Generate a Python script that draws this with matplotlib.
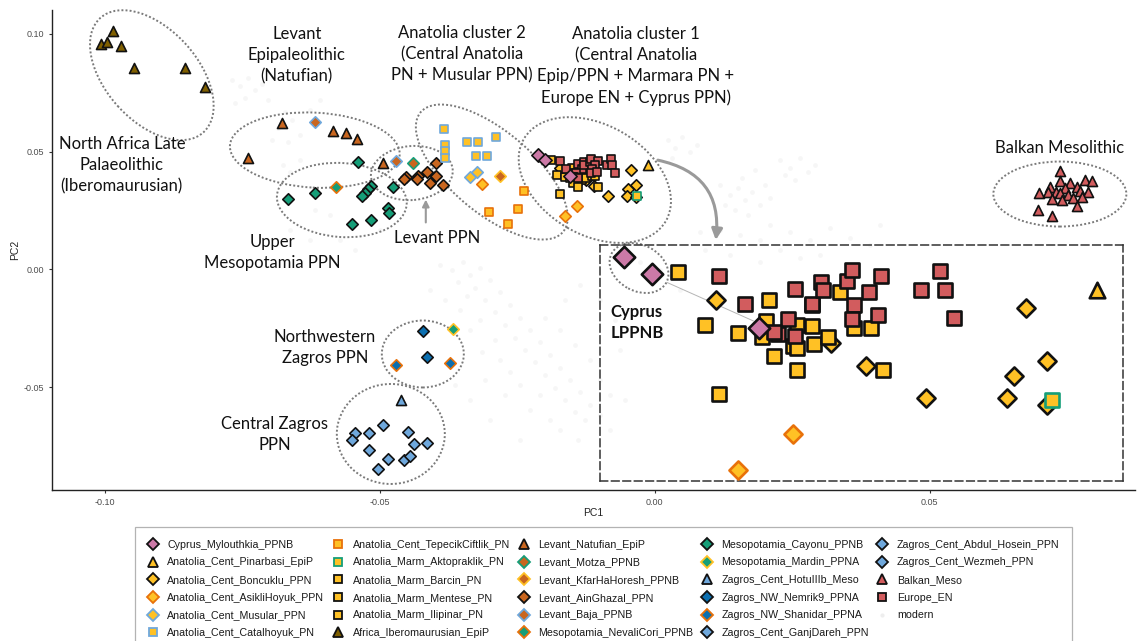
import matplotlib
matplotlib.use("Agg")
import matplotlib.pyplot as plt
from matplotlib.lines import Line2D
from matplotlib.patches import Ellipse, FancyArrowPatch
import matplotlib.transforms as mtransforms

plt.rcParams['font.family'] = ['Liberation Sans', 'DejaVu Sans']

# ---------------- data (PC1, PC2) ----------------
Africa_Iberomaurusian_EpiP_pc1 = [-0.0986, -0.1007, -0.0996, -0.0971, -0.0947, -0.0855, -0.0818]
Africa_Iberomaurusian_EpiP_pc2 = [0.1011, 0.0955, 0.0965, 0.0947, 0.0853, 0.0854, 0.0775]

Levant_Natufian_EpiP_pc1 = [-0.0678, -0.0585, -0.0562, -0.0541, -0.0740, -0.0494]
Levant_Natufian_EpiP_pc2 = [0.0620, 0.0587, 0.0577, 0.0554, 0.0474, 0.0450]

Levant_Baja_PPNB_pc1 = [-0.0617, -0.0470]
Levant_Baja_PPNB_pc2 = [0.0624, 0.0460]

Levant_Motza_PPNB_pc1 = [-0.0440]
Levant_Motza_PPNB_pc2 = [0.0450]

Levant_KfarHaHoresh_PPNB_pc1 = [-0.0282]
Levant_KfarHaHoresh_PPNB_pc2 = [0.0397]

Levant_AinGhazal_PPN_pc1 = [-0.0397, -0.0452, -0.0430, -0.0432, -0.0415, -0.0398, -0.0408, -0.0385, -0.0456]
Levant_AinGhazal_PPN_pc2 = [0.0450, 0.0391, 0.0396, 0.0382, 0.0414, 0.0396, 0.0365, 0.0358, 0.0382]

Mesopotamia_NevaliCori_PPNB_pc1 = [-0.0579]
Mesopotamia_NevaliCori_PPNB_pc2 = [0.0348]

Mesopotamia_Cayonu_PPNB_pc1 = [-0.0540, -0.0667, -0.0618, -0.0516, -0.0521, -0.0527, -0.0533,
                               -0.0476, -0.0485, -0.0483, -0.0516, -0.0550]
Mesopotamia_Cayonu_PPNB_pc2 = [0.0455, 0.0300, 0.0323, 0.0354, 0.0340, 0.0323, 0.0311,
                               0.0348, 0.0259, 0.0240, 0.0209, 0.0191]

Mesopotamia_Mardin_PPNA_pc1 = [-0.0367]
Mesopotamia_Mardin_PPNA_pc2 = [-0.0253]

Zagros_Cent_HotuIIIb_Meso_pc1 = [-0.0461]
Zagros_Cent_HotuIIIb_Meso_pc2 = [-0.0555]

Zagros_NW_Nemrik9_PPNA_pc1 = [-0.0422, -0.0415]
Zagros_NW_Nemrik9_PPNA_pc2 = [-0.0261, -0.0371]

Zagros_NW_Shanidar_PPNA_pc1 = [-0.0470, -0.0373]
Zagros_NW_Shanidar_PPNA_pc2 = [-0.0406, -0.0396]

Zagros_Cent_GanjDareh_PPN_pc1 = [-0.0494, -0.0546, -0.0520, -0.0449, -0.0550, -0.0438, -0.0520, -0.0485]
Zagros_Cent_GanjDareh_PPN_pc2 = [-0.0661, -0.0696, -0.0696, -0.0689, -0.0725, -0.0743, -0.0767, -0.0807]

Zagros_Cent_Abdul_Hosein_PPN_pc1 = [-0.0456, -0.0446]
Zagros_Cent_Abdul_Hosein_PPN_pc2 = [-0.0809, -0.0793]

Zagros_Cent_Wezmeh_PPN_pc1 = [-0.0414, -0.0503]
Zagros_Cent_Wezmeh_PPN_pc2 = [-0.0739, -0.0846]

Balkan_Meso_pc1 = [0.0736, 0.0736, 0.0718, 0.0755, 0.0782, 0.0794, 0.0767, 0.0746, 0.0729, 0.0699, 0.0715,
                   0.0773, 0.0788, 0.0736, 0.0752, 0.0723, 0.0740, 0.0761, 0.0776, 0.0768, 0.0697, 0.0723]
Balkan_Meso_pc2 = [0.0419, 0.0375, 0.0351, 0.0368, 0.0379, 0.0375, 0.0351, 0.0344, 0.0329, 0.0323, 0.0329,
                   0.0334, 0.0329, 0.0323, 0.0315, 0.0297, 0.0294, 0.0301, 0.0308, 0.0269, 0.0252, 0.0226]

Anatolia_Cent_Catalhoyuk_PN_pc1 = [-0.0383, -0.0382, -0.0381, -0.0381, -0.0342, -0.0322, -0.0288, -0.0326, -0.0305]
Anatolia_Cent_Catalhoyuk_PN_pc2 = [0.0596, 0.0528, 0.0502, 0.0471, 0.0542, 0.0542, 0.0563, 0.0481, 0.0481]

Anatolia_Cent_Musular_PPN_pc1 = [-0.0336, -0.0324]
Anatolia_Cent_Musular_PPN_pc2 = [0.0393, 0.0414]

Anatolia_Cent_TepecikCiftlik_PN_pc1 = [-0.0238, -0.0249, -0.0301, -0.0267]
Anatolia_Cent_TepecikCiftlik_PN_pc2 = [0.0332, 0.0255, 0.0245, 0.0191]

Anatolia_Cent_AsikliHoyuk_PPN_pc1 = [-0.0315, -0.0141, -0.0164]
Anatolia_Cent_AsikliHoyuk_PPN_pc2 = [0.0361, 0.0270, 0.0226]

Anatolia_Cent_Boncuklu_PPN_pc1 = [-0.0173, -0.0125, -0.0110, -0.0085, -0.0043, -0.0034, -0.0048, -0.0051, -0.0034]
Anatolia_Cent_Boncuklu_PPN_pc2 = [0.0432, 0.0380, 0.0352, 0.0313, 0.0423, 0.0359, 0.0340, 0.0313, 0.0305]

Anatolia_Marm_Barcin_PN_pc1 = [-0.0189, -0.0151, -0.0178, -0.0164, -0.0152, -0.0139, -0.0133, -0.0154,
                               -0.0141, -0.0139, -0.0132, -0.0126]
Anatolia_Marm_Barcin_PN_pc2 = [0.0466, 0.0432, 0.0402, 0.0392, 0.0407, 0.0402, 0.0401, 0.0388,
                               0.0377, 0.0374, 0.0379, 0.0388]

Anatolia_Marm_Mentese_PN_pc1 = [-0.0149, -0.0139, -0.0121, -0.0115]
Anatolia_Marm_Mentese_PN_pc2 = [0.0365, 0.0348, 0.0442, 0.0398]

Anatolia_Marm_Ilipinar_PN_pc1 = [-0.0108, -0.0103, -0.0172, -0.0133]
Anatolia_Marm_Ilipinar_PN_pc2 = [0.0398, 0.0348, 0.0319, 0.0426]

Anatolia_Marm_Aktopraklik_PN_pc1 = [-0.0032]
Anatolia_Marm_Aktopraklik_PN_pc2 = [0.0311]

Europe_EN_pc1 = [-0.0172, -0.0140, -0.0161, -0.0133, -0.0129, -0.0128, -0.0118, -0.0116, -0.0104, -0.0109,
                 -0.0115, -0.0116, -0.0105, -0.0087, -0.0079, -0.0077, -0.0073, -0.0143, -0.0147, -0.0149, -0.0140]
Europe_EN_pc2 = [0.0462, 0.0446, 0.0427, 0.0428, 0.0454, 0.0444, 0.0455, 0.0469, 0.0461, 0.0442,
                 0.0426, 0.0409, 0.0414, 0.0445, 0.0467, 0.0444, 0.0411, 0.0409, 0.0391, 0.0394, 0.0389]

Anatolia_Cent_Pinarbasi_EpiP_pc1 = [-0.0013]
Anatolia_Cent_Pinarbasi_EpiP_pc2 = [0.0444]

Cyprus_Mylouthkia_PPNB_pc1 = [-0.0212, -0.0200, -0.0155]
Cyprus_Mylouthkia_PPNB_pc2 = [0.0485, 0.0464, 0.0398]

modern_pc1 = [-0.0769, -0.0755, -0.0740, -0.0727, -0.0715, -0.0745, -0.0704, -0.0673, -0.0660, -0.0685,
              -0.0645, -0.0667, -0.0696, -0.0627, -0.0609, -0.0764, -0.0676, -0.0645, -0.0664, -0.0618,
              -0.0591, -0.0573, -0.0545, -0.0500, -0.0664, -0.0627,
              -0.0391, -0.0369, -0.0349, -0.0336, -0.0318, -0.0358, -0.0327, -0.0300, -0.0282, -0.0309,
              -0.0342, -0.0264, -0.0291, -0.0245, -0.0273, -0.0227, -0.0255, -0.0209, -0.0236, -0.0191,
              -0.0218, -0.0173, -0.0200, -0.0155, -0.0182, -0.0136, -0.0164, -0.0118, -0.0145, -0.0100,
              -0.0127, -0.0291, -0.0315, -0.0336, -0.0282, -0.0264, -0.0245, -0.0209, -0.0273, -0.0227,
              -0.0191, -0.0318, -0.0355, -0.0382, -0.0409, -0.0100, -0.0082, -0.0118, -0.0145, -0.0173,
              -0.0200, -0.0164, -0.0136, -0.0100, -0.0073, -0.0064, -0.0055, -0.0082, -0.0140, -0.0173,
              -0.0245, -0.0300, -0.0336, -0.0364, -0.0309,
              0.0024, 0.0036, 0.0049, 0.0064, 0.0076, 0.0031, 0.0118, 0.0136, 0.0151, 0.0164,
              0.0176, 0.0191, 0.0145, 0.0169, 0.0200, 0.0209, 0.0127, 0.0158, 0.0182, 0.0227,
              0.0245, 0.0264, 0.0278, 0.0255, 0.0291, 0.0236, 0.0209, 0.0245, 0.0282, 0.0318,
              0.0355, 0.0191, 0.0155, 0.0118, 0.0082, 0.0091, 0.0409, 0.0391, 0.0227, 0.0300,
              0.0136, 0.0191, 0.0264, 0.0355, -0.0055, -0.0027, 0.0009, 0.0045]
modern_pc2 = [0.0803, 0.0778, 0.0812, 0.0761, 0.0787, 0.0727, 0.0718, 0.0668, 0.0634, 0.0600,
              0.0570, 0.0540, 0.0549, 0.0676, 0.0718, 0.0706, 0.0443, 0.0464, 0.0413, 0.0252,
              0.0230, 0.0124, 0.0082, 0.0167, 0.0167, 0.0124,
              0.0018, -0.0003, 0.0031, -0.0024, 0.0006, -0.0054, -0.0079, -0.0045, -0.0096, -0.0130,
              -0.0113, -0.0152, -0.0181, -0.0207, -0.0236, -0.0258, -0.0292, -0.0309, -0.0343, -0.0364,
              -0.0393, -0.0419, -0.0449, -0.0470, -0.0504, -0.0520, -0.0555, -0.0576, -0.0606, -0.0619,
              -0.0640, -0.0300, -0.0351, -0.0258, -0.0385, -0.0436, -0.0491, -0.0534, -0.0534, -0.0597,
              -0.0640, -0.0215, -0.0173, -0.0130, -0.0088, -0.0470, -0.0534, -0.0385, -0.0321, -0.0258,
              -0.0207, -0.0130, -0.0067, -0.0130, -0.0215, -0.0342, -0.0555, -0.0682, -0.0724, -0.0682,
              -0.0724, -0.0640, -0.0555, -0.0491, -0.0470,
              0.0549, 0.0515, 0.0562, 0.0498, 0.0528, 0.0472, 0.0358, 0.0316, 0.0345, 0.0294,
              0.0328, 0.0273, 0.0252, 0.0230, 0.0358, 0.0303, 0.0273, 0.0388, 0.0421, 0.0464,
              0.0430, 0.0472, 0.0413, 0.0379, 0.0443, 0.0400, 0.0188, 0.0158, 0.0124, 0.0175,
              0.0133, 0.0124, 0.0146, 0.0167, 0.0158, 0.0082, 0.0188, 0.0103, 0.0082, 0.0061,
              0.0061, 0.0031, 0.0048, 0.0018, 0.0061, 0.0031, -0.0003, -0.0088]

xtick_values = [-0.10, -0.05, 0.00, 0.05]
xtick_labels = ['-0.10', '-0.05', '0.00', '0.05']
ytick_values = [-0.05, 0.00, 0.05, 0.10]
ytick_labels = ['-0.05', '0.00', '0.05', '0.10']

# ---------------- styles ----------------
GOLD = '#FFC125'
PINK = '#CC79A7'
ORANGE = '#E8710A'
LBLUE = '#6FA8DC'
GREEN = '#159E78'
BROWN = '#C9661F'
OLIVE = '#7F5F00'
DBLUE = '#0B6FB0'
RED = '#D25C5E'
BLACK = '#111111'

# label, pc1, pc2, marker, face, edge
legend_groups = [
    ('Cyprus_Mylouthkia_PPNB', Cyprus_Mylouthkia_PPNB_pc1, Cyprus_Mylouthkia_PPNB_pc2, 'D', PINK, BLACK),
    ('Anatolia_Cent_Pinarbasi_EpiP', Anatolia_Cent_Pinarbasi_EpiP_pc1, Anatolia_Cent_Pinarbasi_EpiP_pc2, '^', GOLD, BLACK),
    ('Anatolia_Cent_Boncuklu_PPN', Anatolia_Cent_Boncuklu_PPN_pc1, Anatolia_Cent_Boncuklu_PPN_pc2, 'D', GOLD, BLACK),
    ('Anatolia_Cent_AsikliHoyuk_PPN', Anatolia_Cent_AsikliHoyuk_PPN_pc1, Anatolia_Cent_AsikliHoyuk_PPN_pc2, 'D', GOLD, ORANGE),
    ('Anatolia_Cent_Musular_PPN', Anatolia_Cent_Musular_PPN_pc1, Anatolia_Cent_Musular_PPN_pc2, 'D', GOLD, LBLUE),
    ('Anatolia_Cent_Catalhoyuk_PN', Anatolia_Cent_Catalhoyuk_PN_pc1, Anatolia_Cent_Catalhoyuk_PN_pc2, 's', GOLD, LBLUE),
    ('Anatolia_Cent_TepecikCiftlik_PN', Anatolia_Cent_TepecikCiftlik_PN_pc1, Anatolia_Cent_TepecikCiftlik_PN_pc2, 's', GOLD, ORANGE),
    ('Anatolia_Marm_Aktopraklik_PN', Anatolia_Marm_Aktopraklik_PN_pc1, Anatolia_Marm_Aktopraklik_PN_pc2, 's', GOLD, GREEN),
    ('Anatolia_Marm_Barcin_PN', Anatolia_Marm_Barcin_PN_pc1, Anatolia_Marm_Barcin_PN_pc2, 's', GOLD, BLACK),
    ('Anatolia_Marm_Mentese_PN', Anatolia_Marm_Mentese_PN_pc1, Anatolia_Marm_Mentese_PN_pc2, 's', GOLD, BLACK),
    ('Anatolia_Marm_Ilipinar_PN', Anatolia_Marm_Ilipinar_PN_pc1, Anatolia_Marm_Ilipinar_PN_pc2, 's', GOLD, BLACK),
    ('Africa_Iberomaurusian_EpiP', Africa_Iberomaurusian_EpiP_pc1, Africa_Iberomaurusian_EpiP_pc2, '^', OLIVE, BLACK),
    ('Levant_Natufian_EpiP', Levant_Natufian_EpiP_pc1, Levant_Natufian_EpiP_pc2, '^', BROWN, BLACK),
    ('Levant_Motza_PPNB', Levant_Motza_PPNB_pc1, Levant_Motza_PPNB_pc2, 'D', BROWN, GREEN),
    ('Levant_KfarHaHoresh_PPNB', Levant_KfarHaHoresh_PPNB_pc1, Levant_KfarHaHoresh_PPNB_pc2, 'D', BROWN, GOLD),
    ('Levant_AinGhazal_PPN', Levant_AinGhazal_PPN_pc1, Levant_AinGhazal_PPN_pc2, 'D', BROWN, BLACK),
    ('Levant_Baja_PPNB', Levant_Baja_PPNB_pc1, Levant_Baja_PPNB_pc2, 'D', BROWN, LBLUE),
    ('Mesopotamia_NevaliCori_PPNB', Mesopotamia_NevaliCori_PPNB_pc1, Mesopotamia_NevaliCori_PPNB_pc2, 'D', GREEN, ORANGE),
    ('Mesopotamia_Cayonu_PPNB', Mesopotamia_Cayonu_PPNB_pc1, Mesopotamia_Cayonu_PPNB_pc2, 'D', GREEN, BLACK),
    ('Mesopotamia_Mardin_PPNA', Mesopotamia_Mardin_PPNA_pc1, Mesopotamia_Mardin_PPNA_pc2, 'D', GREEN, GOLD),
    ('Zagros_Cent_HotuIIIb_Meso', Zagros_Cent_HotuIIIb_Meso_pc1, Zagros_Cent_HotuIIIb_Meso_pc2, '^', LBLUE, BLACK),
    ('Zagros_NW_Nemrik9_PPNA', Zagros_NW_Nemrik9_PPNA_pc1, Zagros_NW_Nemrik9_PPNA_pc2, 'D', DBLUE, BLACK),
    ('Zagros_NW_Shanidar_PPNA', Zagros_NW_Shanidar_PPNA_pc1, Zagros_NW_Shanidar_PPNA_pc2, 'D', DBLUE, ORANGE),
    ('Zagros_Cent_GanjDareh_PPN', Zagros_Cent_GanjDareh_PPN_pc1, Zagros_Cent_GanjDareh_PPN_pc2, 'D', LBLUE, BLACK),
    ('Zagros_Cent_Abdul_Hosein_PPN', Zagros_Cent_Abdul_Hosein_PPN_pc1, Zagros_Cent_Abdul_Hosein_PPN_pc2, 'D', LBLUE, BLACK),
    ('Zagros_Cent_Wezmeh_PPN', Zagros_Cent_Wezmeh_PPN_pc1, Zagros_Cent_Wezmeh_PPN_pc2, 'D', LBLUE, BLACK),
    ('Balkan_Meso', Balkan_Meso_pc1, Balkan_Meso_pc2, '^', RED, BLACK),
    ('Europe_EN', Europe_EN_pc1, Europe_EN_pc2, 's', RED, BLACK),
]
by_label = {g[0]: g for g in legend_groups}

draw_order = [
    'Africa_Iberomaurusian_EpiP', 'Levant_Natufian_EpiP', 'Levant_Baja_PPNB', 'Levant_Motza_PPNB',
    'Levant_KfarHaHoresh_PPNB', 'Levant_AinGhazal_PPN', 'Mesopotamia_NevaliCori_PPNB',
    'Mesopotamia_Cayonu_PPNB', 'Mesopotamia_Mardin_PPNA', 'Zagros_Cent_HotuIIIb_Meso',
    'Zagros_NW_Nemrik9_PPNA', 'Zagros_NW_Shanidar_PPNA', 'Zagros_Cent_GanjDareh_PPN',
    'Zagros_Cent_Abdul_Hosein_PPN', 'Zagros_Cent_Wezmeh_PPN', 'Balkan_Meso',
    'Anatolia_Cent_Catalhoyuk_PN', 'Anatolia_Cent_Musular_PPN', 'Anatolia_Cent_TepecikCiftlik_PN',
    'Anatolia_Cent_AsikliHoyuk_PPN', 'Anatolia_Cent_Boncuklu_PPN', 'Anatolia_Marm_Barcin_PN',
    'Anatolia_Marm_Mentese_PN', 'Anatolia_Marm_Ilipinar_PN', 'Anatolia_Marm_Aktopraklik_PN',
    'Europe_EN', 'Anatolia_Cent_Pinarbasi_EpiP', 'Cyprus_Mylouthkia_PPNB',
]

main_size = {'D': 34, 's': 32, '^': 52}
inset_size = {'D': 85, 's': 100, '^': 125}

W, H = 1146, 641
fig = plt.figure(figsize=(W / 100, H / 100), dpi=100)
ax = fig.add_axes([52 / W, 1 - 490 / H, (1135 - 52) / W, (490 - 10) / H])
ax.set_xlim(-0.1096, 0.0873)
ax.set_ylim(-0.0937, 0.1101)
for s in ['top', 'right']:
    ax.spines[s].set_visible(False)
for s in ['left', 'bottom']:
    ax.spines[s].set_linewidth(1.0)
    ax.spines[s].set_color('#222222')
ax.set_xticks(xtick_values)
ax.set_xticklabels(xtick_labels)
ax.set_yticks(ytick_values)
ax.set_yticklabels(ytick_labels)
ax.tick_params(length=2.5, width=0.8, color='#333333', labelsize=6.5, labelcolor='#4D4D4D', pad=3)
ax.set_xlabel('PC1', fontsize=7.5, labelpad=1, color='#222222')
ax.set_ylabel('PC2', fontsize=7.5, labelpad=3, color='#222222')

ax.scatter(modern_pc1, modern_pc2, s=12, c='#8a8a8a', alpha=0.07, linewidths=0, zorder=1)

for name in draw_order:
    lab, x, y, m, fc, ec = by_label[name]
    sz = main_size[m] * (1.35 if name == 'Cyprus_Mylouthkia_PPNB' else 1.0)
    ax.scatter(x, y, marker=m, s=sz, facecolor=fc, edgecolor=ec, linewidths=1.2, zorder=3)

# ---------------- ellipses ----------------
def ring(a, cx, cy, w_px, h_px, ang):
    tr = fig.dpi_scale_trans + mtransforms.ScaledTranslation(cx, cy, a.transData)
    e = Ellipse((0, 0), w_px / 100, h_px / 100, angle=ang, transform=tr, fill=False,
                linestyle=(0, (1, 1.1)), linewidth=1.4, edgecolor='#7a7a7a', clip_on=False, zorder=2)
    a.add_patch(e)

ring(ax, -0.09145, 0.08243, 154, 92, -48)   # North Africa
ring(ax, -0.06182, 0.05060, 170, 75, -3)    # Levant Epipaleolithic
ring(ax, -0.05691, 0.02941, 130, 74, -4)    # Upper Mesopotamia
ring(ax, -0.04418, 0.04087, 82, 54, 5)      # Levant PPN
ring(ax, -0.02964, 0.04130, 186, 82, -40)   # Anatolia cluster 2
ring(ax, -0.01091, 0.03790, 164, 110, -30)  # Anatolia cluster 1
ring(ax, 0.07364, 0.03196, 133, 65, 0)      # Balkan
ring(ax, -0.04218, -0.03595, 82, 67, 0)     # NW Zagros
ring(ax, -0.04800, -0.06991, 108, 100, 0)   # Central Zagros

# arrows
ax.add_patch(FancyArrowPatch((0.00055, 0.04635), (0.01109, 0.01244), connectionstyle='arc3,rad=-0.45',
                             arrowstyle='-|>', mutation_scale=16, linewidth=2.2, color='#9a9a9a',
                             shrinkA=0, shrinkB=0, zorder=2))
ax.add_patch(FancyArrowPatch((-0.04164, 0.0199), (-0.04164, 0.0296), arrowstyle='-|>', mutation_scale=10,
                             linewidth=1.5, color='#9a9a9a', shrinkA=0, shrinkB=0, zorder=2))

# ---------------- annotations ----------------
AF = ['Lato', 'DejaVu Sans']
tkw = dict(ha='center', va='center', fontsize=12, family=AF, linespacing=1.38, color='#111111', zorder=4)
ax.text(-0.0969, 0.0443, 'North Africa Late\nPalaeolithic\n(Iberomaurusian)', **tkw)
ax.text(-0.0651, 0.0909, 'Levant\nEpipaleolithic\n(Natufian)', **tkw)
ax.text(-0.0351, 0.0914, 'Anatolia cluster 2\n(Central Anatolia\nPN + Musular PPN)', **tkw)
ax.text(-0.00345, 0.0863, 'Anatolia cluster 1\n(Central Anatolia\nEpip/PPN + Marmara PN +\nEurope EN + Cyprus PPN)', **tkw)
ax.text(0.07364, 0.0515, 'Balkan Mesolithic', **tkw)
ax.text(-0.0696, 0.00713, 'Upper\nMesopotamia PPN', **tkw)
ax.text(-0.03964, 0.01329, 'Levant PPN', **tkw)
ax.text(-0.0600, -0.0332, 'Northwestern\nZagros PPN', **tkw)
ax.text(-0.0691, -0.0701, 'Central Zagros\nPPN', **tkw)
ax.text(-0.0080, -0.02258, 'Cyprus\nLPPNB', ha='left', va='center', fontsize=12, family=AF,
        fontweight='bold', linespacing=1.38, color='#111111', zorder=4)

# ---------------- inset (zoom of Anatolia cluster 1) ----------------
ins = fig.add_axes([600 / W, 1 - 481 / H, 523 / W, 236 / H], facecolor='none')
ins.set_xlim(-0.0222, -0.0002)
ins.set_ylim(0.0213, 0.0499)
ins.set_xticks([])
ins.set_yticks([])
for sp in ins.spines.values():
    sp.set_linestyle((0, (5, 2.5)))
    sp.set_linewidth(1.1)
    sp.set_edgecolor('#333333')
for name in draw_order:
    lab, x, y, m, fc, ec = by_label[name]
    sz = inset_size[m] * (1.4 if name == 'Cyprus_Mylouthkia_PPNB' else 1.0)
    ins.scatter(x, y, marker=m, s=sz, facecolor=fc, edgecolor=ec, linewidths=1.9, zorder=3)
ring(ins, -0.02056, 0.04711, 62, 46, -28)
ins.plot([-0.01938, -0.01575], [0.04536, 0.04070], color='#b5b5b5', linewidth=0.7, zorder=2)

# ---------------- legend ----------------
leg_ms = {'D': 6.2, 's': 6.0, '^': 7.5}
handles, labels = [], []
for lab, x, y, m, fc, ec in legend_groups:
    handles.append(Line2D([], [], linestyle='none', marker=m, markerfacecolor=fc, markeredgecolor=ec,
                          markeredgewidth=1.3, markersize=leg_ms[m]))
    labels.append(lab)
handles.append(Line2D([], [], linestyle='none', marker='o', markerfacecolor='#eeeeee',
                      markeredgecolor='none', markersize=3))
labels.append('modern')

leg = fig.legend(handles, labels, loc='upper left', bbox_to_anchor=(135 / W, 1 - 527 / H), ncol=5,
                 fontsize=7.65, frameon=True, fancybox=False, edgecolor='#a0a0a0', handlelength=1.0,
                 handletextpad=0.85, columnspacing=0.8, labelspacing=0.72, borderpad=1.2, borderaxespad=0)
leg.get_frame().set_linewidth(0.9)
for t in leg.get_texts():
    t.set_color('#1a1a1a')

fig.savefig('out.png', dpi=100)
